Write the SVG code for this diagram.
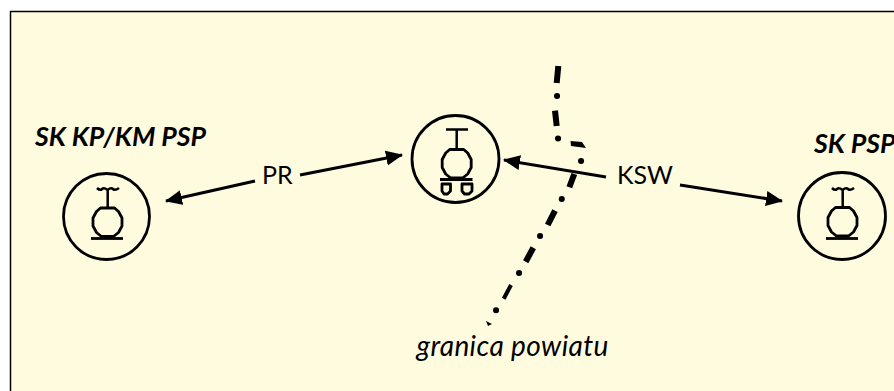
<svg xmlns="http://www.w3.org/2000/svg" width="894" height="391" viewBox="0 0 894 391">
<style>
.s{fill:none;stroke:#000;stroke-width:2.800;stroke-linejoin:round}
.t{fill:none;stroke:#000;stroke-width:2.500}
.a{stroke:#000;stroke-width:3;fill:none;marker-end:url(#ah)}
.d{stroke:#000;stroke-width:6;fill:none}
.c{stroke:#000;stroke-width:6;fill:none;stroke-linecap:round}
.h{font-family:Lato,"Liberation Sans",sans-serif;font-weight:700;font-style:italic;font-size:26.700px;fill:#000}
.l{font-family:Lato,"Liberation Sans",sans-serif;font-size:25px;fill:#000}
.g{font-family:Lato,"Liberation Sans",sans-serif;font-style:italic;font-size:28px;letter-spacing:.4px;fill:#000}
</style>
<defs>
<marker id="ah" markerUnits="userSpaceOnUse" markerWidth="18" markerHeight="16" refX="16" refY="8" orient="auto"><path d="M0 0.500L17 8L0 15.500Z" fill="#000"/></marker>
<path id="oct" d="M-7 -14L7 -14L11 -10.500L14.500 -4L14.500 4L11 10.500L6 14.500L-6 14.500L-11 10.500L-14.500 4L-14.500 -4L-11 -10.500Z"/>
</defs>
<rect width="894" height="391" fill="#fff"/>
<rect x="10.500" y="11.500" width="890" height="390" fill="#fffbdf" stroke="#000" stroke-width="1.500"/>
<g id="node-sk-kp">
<circle class="s" cx="106.500" cy="216.500" r="43"/>
<path class="t" d="M97 188q3 3 5 1t5.500 1q3.500 -3 5.500 -1t6 -1M107.700 190V208"/>
<use href="#oct" class="s" x="107.500" y="222"/>
<path class="s" d="M91 238.500H123"/>
<text class="h" x="35" y="146">SK KP/KM PSP</text>
</g>
<g id="node-center">
<circle class="s" cx="455.500" cy="159" r="43.500"/>
<path class="t" d="M446 129.500H468M456.700 129.500V150"/>
<use href="#oct" class="s" x="456.700" y="163.500"/>
<path class="s" d="M440 179.500H472.500"/>
<path class="s" d="M442 184H450.500V191L447.500 194H444L442 191Z"/>
<path class="s" d="M462 184H472V191L469 194H464.500L462 191Z"/>
</g>
<g id="node-sk-psp">
<circle class="s" cx="842" cy="216" r="43.500"/>
<path class="t" d="M832 188q3 3 5 1t5.500 1q3.500 -3 5.500 -1t6 -1M842.700 190V208"/>
<use href="#oct" class="s" x="842.500" y="221.500"/>
<path class="s" d="M826 238.500H858"/>
<text class="h" x="814" y="153">SK PSP</text>
</g>
<g id="connectors">
<path class="a" d="M255 181L166 201"/>
<path class="a" d="M300 175L402 155"/>
<path class="a" d="M606 177L504 160"/>
<path class="a" d="M680 185L782 201"/>
</g>
<g id="boundary">
<path class="d" d="M558.300 66L556.700 83M555 110.700L556.700 126M574.300 174L569.300 187.300M555 210.700L547.700 225M533.300 247.700L525.700 261.700"/>
<path d="M570.500 141L582 142L586 148L571 146Z" fill="#000"/>
<path class="c" d="M557 96H557.100M558 138.500H558.100M581 161H581.100M561.700 199H561.800M540 236H540.100M519 273H519.100M496 310.300H496.100"/>
<path d="M511 285L503.700 298.700" stroke="#000" stroke-width="4" fill="none"/>
<path d="M486 321L492 324L488 326Z" fill="#000"/>
</g>
<text class="l" x="262" y="184">PR</text>
<text class="l" x="617" y="184">KSW</text>
<text class="g" x="416.500" y="356">granica powiatu</text>
</svg>
